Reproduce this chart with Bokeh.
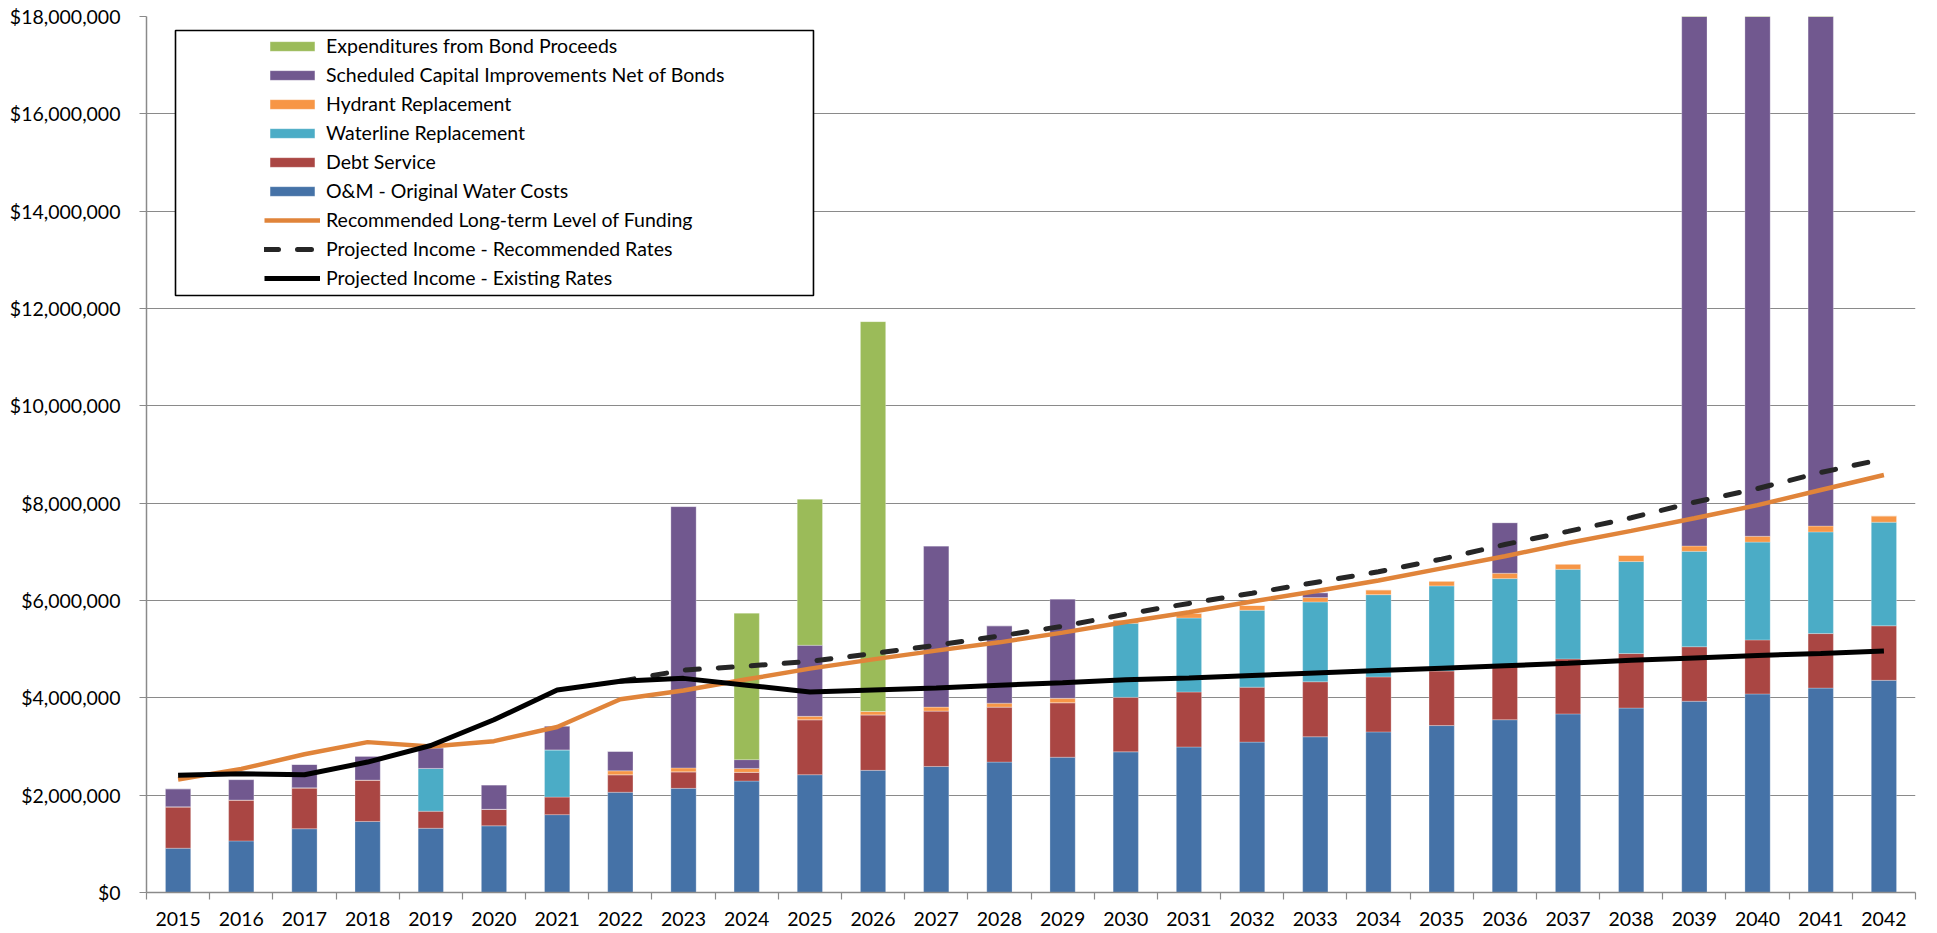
from bokeh.plotting import figure
from bokeh.models import (ColumnDataSource, FixedTicker, Legend, LegendItem,
                          BoxAnnotation, NumeralTickFormatter, Range1d)
from bokeh.embed import file_html
from bokeh.resources import INLINE

years = list(range(2015, 2043))

om = [0.91, 1.06, 1.31, 1.46, 1.32, 1.37, 1.60, 2.06, 2.14, 2.29, 2.42, 2.51, 2.59, 2.68,
      2.78, 2.89, 2.99, 3.09, 3.20, 3.30, 3.43, 3.55, 3.67, 3.79, 3.93, 4.08, 4.20, 4.36]
debt = [0.85, 0.84, 0.84, 0.85, 0.35, 0.34, 0.36, 0.36, 0.34, 0.18, 1.13, 1.14, 1.14, 1.13,
        1.12, 1.12, 1.13, 1.13, 1.13, 1.13, 1.12, 1.13, 1.13, 1.12, 1.12, 1.11, 1.12, 1.12]
waterline = [0, 0, 0, 0, 0.88, 0, 0.97, 0, 0, 0, 0, 0, 0, 0,
             0, 1.52, 1.52, 1.58, 1.64, 1.69, 1.75, 1.77, 1.84, 1.89, 1.96, 2.01, 2.09, 2.13]
hydrant = [0, 0, 0, 0, 0, 0, 0, 0.08, 0.08, 0.08, 0.07, 0.07, 0.08, 0.08,
           0.09, 0.07, 0.10, 0.10, 0.09, 0.10, 0.10, 0.11, 0.11, 0.13, 0.11, 0.12, 0.12, 0.13]
capital = [0.37, 0.42, 0.48, 0.49, 0.42, 0.50, 0.49, 0.40, 5.37, 0.18, 1.46, 0, 3.31, 1.59,
           2.04, 0, 0, 0, 0.10, 0, 0, 1.04, 0, 0, 14.0, 13.0, 12.5, 0]
bond = [0, 0, 0, 0, 0, 0, 0, 0, 0, 3.01, 3.00, 8.01, 0, 0,
        0, 0, 0, 0, 0, 0, 0, 0, 0, 0, 0, 0, 0, 0]

recommended_funding = [2.32, 2.54, 2.84, 3.09, 3.00, 3.11, 3.40, 3.97, 4.15, 4.38, 4.60, 4.79,
                       4.97, 5.14, 5.34, 5.56, 5.76, 5.98, 6.19, 6.41, 6.66, 6.91, 7.18, 7.43,
                       7.69, 7.96, 8.27, 8.58]
existing_income = [2.41, 2.44, 2.42, 2.68, 3.02, 3.55, 4.16, 4.34, 4.40, 4.26, 4.12, 4.16,
                   4.20, 4.26, 4.31, 4.37, 4.41, 4.46, 4.51, 4.56, 4.61, 4.66, 4.71, 4.77,
                   4.82, 4.87, 4.91, 4.96]
rec_years = list(range(2022, 2043))
recommended_income = [4.34, 4.57, 4.65, 4.75, 4.91, 5.08, 5.27, 5.47, 5.72, 5.94, 6.15, 6.37,
                      6.59, 6.85, 7.15, 7.42, 7.70, 8.02, 8.30, 8.63, 8.91]

y_ticks = [0, 2e6, 4e6, 6e6, 8e6, 10e6, 12e6, 14e6, 16e6, 18e6]

M = 1e6
src = ColumnDataSource(dict(
    year=years,
    om=[v * M for v in om],
    debt=[v * M for v in debt],
    waterline=[v * M for v in waterline],
    hydrant=[v * M for v in hydrant],
    capital=[v * M for v in capital],
    bond=[v * M for v in bond],
))

FONT = "Lato"
FS = "19.5px"

p = figure(width=1937, height=930, output_backend="svg", toolbar_location=None,
           x_range=Range1d(2014.5, 2042.5), y_range=Range1d(0, 18e6),
           min_border_left=146, min_border_right=22, min_border_top=16, min_border_bottom=38)
p.outline_line_color = None
p.xgrid.grid_line_color = None
p.ygrid.grid_line_color = "#8a8a8a"
p.ygrid.grid_line_width = 1.2

stack = ["om", "debt", "waterline", "hydrant", "capital", "bond"]
colors = ["#4572A7", "#AA4643", "#4BACC6", "#F79646", "#71588F", "#9BBB59"]
bars = p.vbar_stack(stack, x="year", width=0.4, color=colors, source=src,
                    line_color="white", line_alpha=0.35, line_width=0.8)

l_fund = p.line(years, [v * M for v in recommended_funding], line_color="#E0843A", line_width=4.5)
l_rec = p.line(rec_years, [v * M for v in recommended_income], line_color="#262626",
               line_width=5, line_dash="14 19", line_cap="round")
l_ex = p.line(years, [v * M for v in existing_income], line_color="#000000", line_width=5)

# axes
p.xaxis.ticker = FixedTicker(ticks=years, minor_ticks=[y + 0.5 for y in [2014] + years])
p.xaxis.major_tick_out = 0
p.xaxis.major_tick_in = 0
p.xaxis.minor_tick_out = 7
p.xaxis.minor_tick_in = 0
p.xaxis.major_label_standoff = 12
p.yaxis.ticker = FixedTicker(ticks=y_ticks)
p.yaxis.formatter = NumeralTickFormatter(format="$0,0")
p.yaxis.major_tick_out = 7
p.yaxis.major_tick_in = 0
p.yaxis.minor_tick_out = 0
p.yaxis.minor_tick_in = 0
p.yaxis.major_label_standoff = 19
for ax in (p.xaxis[0], p.yaxis[0]):
    ax.axis_line_color = "#8a8a8a"
    ax.axis_line_width = 1.5
    ax.major_tick_line_color = "#8a8a8a"
    ax.minor_tick_line_color = "#8a8a8a"
    ax.major_tick_line_width = 1.2
    ax.minor_tick_line_width = 1.2
    ax.major_label_text_font = FONT
    ax.major_label_text_font_size = FS
    ax.major_label_text_color = "#000000"

# legend frame
box = BoxAnnotation(left=2014.959, right=2025.057, bottom=12.267e6, top=17.712e6,
                    fill_color="white", fill_alpha=1.0, line_color="black", line_width=1.6,
                    line_alpha=1.0)
p.add_layout(box)

items = [
    LegendItem(label="Expenditures from Bond Proceeds", renderers=[bars[5]]),
    LegendItem(label="Scheduled Capital Improvements Net of Bonds", renderers=[bars[4]]),
    LegendItem(label="Hydrant Replacement", renderers=[bars[3]]),
    LegendItem(label="Waterline Replacement", renderers=[bars[2]]),
    LegendItem(label="Debt Service", renderers=[bars[1]]),
    LegendItem(label="O&M - Original Water Costs", renderers=[bars[0]]),
    LegendItem(label="Recommended Long-term Level of Funding", renderers=[l_fund]),
    LegendItem(label="Projected Income - Recommended Rates", renderers=[l_rec]),
    LegendItem(label="Projected Income - Existing Rates", renderers=[l_ex]),
]
legend = Legend(items=items, location=(118, 603), padding=0, margin=0, spacing=6,
                glyph_width=56, glyph_height=12, label_height=20, label_standoff=6,
                label_text_font=FONT, label_text_font_size=FS, label_text_color="#000000",
                border_line_color=None, background_fill_alpha=0)
p.add_layout(legend)

open("out.html", "w").write(file_html(p, INLINE))
